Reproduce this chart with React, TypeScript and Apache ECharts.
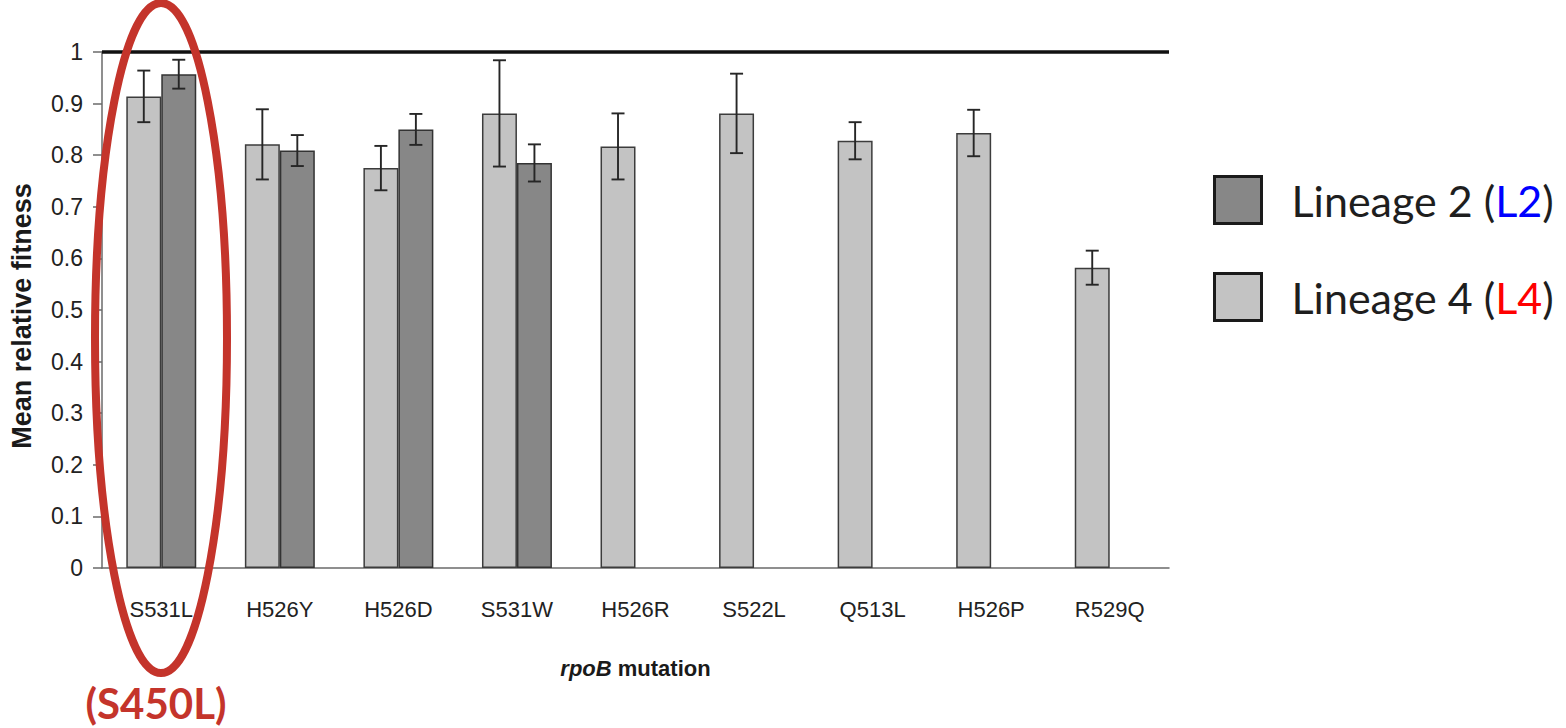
import React, { useEffect, useRef } from "react";
import * as echarts from "echarts";

// ---------- data ----------
const categories = ["S531L", "H526Y", "H526D", "S531W", "H526R", "S522L", "Q513L", "H526P", "R529Q"];
const l4Name = "Lineage 4 (L4)";
const l2Name = "Lineage 2 (L2)";
const l4Mean = [0.914, 0.821, 0.775, 0.881, 0.817, 0.881, 0.828, 0.843, 0.582];
const l4Err = [0.05, 0.068, 0.043, 0.103, 0.064, 0.077, 0.036, 0.045, 0.033];
const l2Mean: (number | null)[] = [0.957, 0.809, 0.85, 0.785, null, null, null, null, null];
const l2Err: (number | null)[] = [0.028, 0.03, 0.03, 0.036, null, null, null, null, null];
const yMin = 0;
const yMax = 1;
const yStep = 0.1;
const referenceLine = 1;
const xAxisTitleItalic = "rpoB";
const xAxisTitleRest = " mutation";
const yAxisTitle = "Mean relative fitness";
const annotationLabel = "(S450L)";

// ---------- style ----------
const CAT_GAP = 0.41;
const LIGHT = "#c3c3c3";
const DARK = "#878787";
const RED = "#c4342b";
const AXIS_FONT = "'Liberation Sans', Arial, Helvetica, sans-serif";
const LEG_FONT = "Lato, 'Noto Sans', sans-serif";

function errData(mean: (number | null)[], err: (number | null)[]) {
  const out: any[] = [];
  mean.forEach((m, i) => {
    const e = err[i];
    if (m == null || e == null) return;
    out.push([i, m - e, m + e]);
  });
  return out;
}

function errorRenderer(side: number) {
  return (params: any, api: any) => {
    const idx = api.value(0);
    const lo = api.value(1);
    const hi = api.value(2);
    const band = api.size([1, 0])[0];
    const bw = (band * (1 - CAT_GAP)) / 2;
    const top = api.coord([idx, hi]);
    const bot = api.coord([idx, lo]);
    const x = top[0] + (side * bw) / 2;
    const cap = 6.5;
    const st = { stroke: "#262626", lineWidth: 1.9 };
    return {
      type: "group",
      children: [
        { type: "line", shape: { x1: x, y1: top[1], x2: x, y2: bot[1] }, style: st },
        { type: "line", shape: { x1: x - cap, y1: top[1], x2: x + cap, y2: top[1] }, style: st },
        { type: "line", shape: { x1: x - cap, y1: bot[1], x2: x + cap, y2: bot[1] }, style: st },
      ],
    };
  };
}

export default function App() {
  const ref = useRef<HTMLDivElement>(null);
  useEffect(() => {
    if (!ref.current) return;
    const chart = echarts.init(ref.current, undefined, { renderer: "svg" });
    const legendText = { fontFamily: LEG_FONT, fontSize: 43, lineHeight: 47 };
    chart.setOption({
      animation: false,
      backgroundColor: "#ffffff",
      grid: { left: 101, right: 397, top: 52, bottom: 160, containLabel: false },
      legend: {
        orient: "vertical",
        left: 1213,
        top: 175,
        padding: 0,
        itemWidth: 47,
        itemHeight: 47,
        itemGap: 47,
        icon: "rect",
        selectedMode: false,
        data: [l2Name, l4Name],
        itemStyle: { borderColor: "#1a1a1a", borderWidth: 3 },
        formatter: (name: string) =>
          name.replace(/\((L\d)\)/, (_m: string, g: string) => `({${g === "L2" ? "b" : "r"}|${g}})`),
        textStyle: {
          ...legendText,
          color: "#1e1e1e",
          padding: [0, 0, 0, 25],
          rich: {
            b: { ...legendText, color: "#0000ff" },
            r: { ...legendText, color: "#ff0000" },
          },
        },
      },
      xAxis: {
        type: "category",
        data: categories,
        name: `{i|${xAxisTitleItalic}}${xAxisTitleRest}`,
        nameLocation: "middle",
        nameGap: 89,
        nameTextStyle: {
          fontFamily: AXIS_FONT,
          fontSize: 22,
          fontWeight: "bold",
          color: "#1a1a1a",
          rich: {
            i: { fontFamily: AXIS_FONT, fontSize: 22, fontWeight: "bold", fontStyle: "italic", color: "#1a1a1a" },
          },
        },
        axisLine: { lineStyle: { color: "#6a6a6a", width: 1.5 } },
        axisTick: { length: 9, lineStyle: { color: "#6a6a6a", width: 1.5 } },
        axisLabel: { interval: 0, margin: 30, fontFamily: AXIS_FONT, fontSize: 22, color: "#222222" },
      },
      yAxis: {
        type: "value",
        min: yMin,
        max: yMax,
        interval: yStep,
        name: yAxisTitle,
        nameLocation: "middle",
        nameRotate: 90,
        nameGap: 67,
        nameTextStyle: {
          fontFamily: AXIS_FONT,
          fontSize: 27,
          fontWeight: "bold",
          color: "#1a1a1a",
          padding: [0, 12, 0, 0],
        },
        axisLine: { show: true, lineStyle: { color: "#6a6a6a", width: 1.5 } },
        axisTick: { show: true, length: 9, lineStyle: { color: "#6a6a6a", width: 1.5 } },
        axisLabel: { margin: 19, fontFamily: AXIS_FONT, fontSize: 23, color: "#222222" },
        splitLine: { show: false },
      },
      series: [
        {
          name: l4Name,
          type: "bar",
          data: l4Mean,
          barGap: "0%",
          barCategoryGap: `${CAT_GAP * 100}%`,
          itemStyle: { color: LIGHT, borderColor: "#3c3c3c", borderWidth: 1.5 },
          markLine: {
            silent: true,
            symbol: ["none", "none"],
            label: { show: false },
            lineStyle: { color: "#111111", width: 3.5, type: "solid" },
            data: [{ yAxis: referenceLine }],
          },
        },
        {
          name: l2Name,
          type: "bar",
          data: l2Mean.map((v) => (v == null ? "-" : v)),
          barGap: "0%",
          barCategoryGap: `${CAT_GAP * 100}%`,
          itemStyle: { color: DARK, borderColor: "#333333", borderWidth: 1.5 },
        },
        {
          type: "custom",
          name: "l4err",
          data: errData(l4Mean, l4Err),
          encode: { x: 0, y: [1, 2] },
          renderItem: errorRenderer(-1),
          z: 5,
          silent: true,
        },
        {
          type: "custom",
          name: "l2err",
          data: errData(l2Mean, l2Err),
          encode: { x: 0, y: [1, 2] },
          renderItem: errorRenderer(1),
          z: 5,
          silent: true,
        },
      ],
      graphic: [
        {
          type: "ellipse",
          z: 100,
          shape: { cx: 161, cy: 338, rx: 66, ry: 335 },
          style: { fill: "none", stroke: RED, lineWidth: 8 },
          silent: true,
        },
        {
          type: "text",
          z: 100,
          x: 156,
          y: 703,
          style: {
            text: annotationLabel,
            fill: RED,
            font: `bold 42px ${LEG_FONT}`,
            textAlign: "center",
            textVerticalAlign: "middle",
          },
        },
      ],
    });
    return () => chart.dispose();
  }, []);
  return (
    <div
      ref={ref}
      style={{ position: "fixed", left: 0, top: 0, width: 1566, height: 728, background: "#fff" }}
    />
  );
}
